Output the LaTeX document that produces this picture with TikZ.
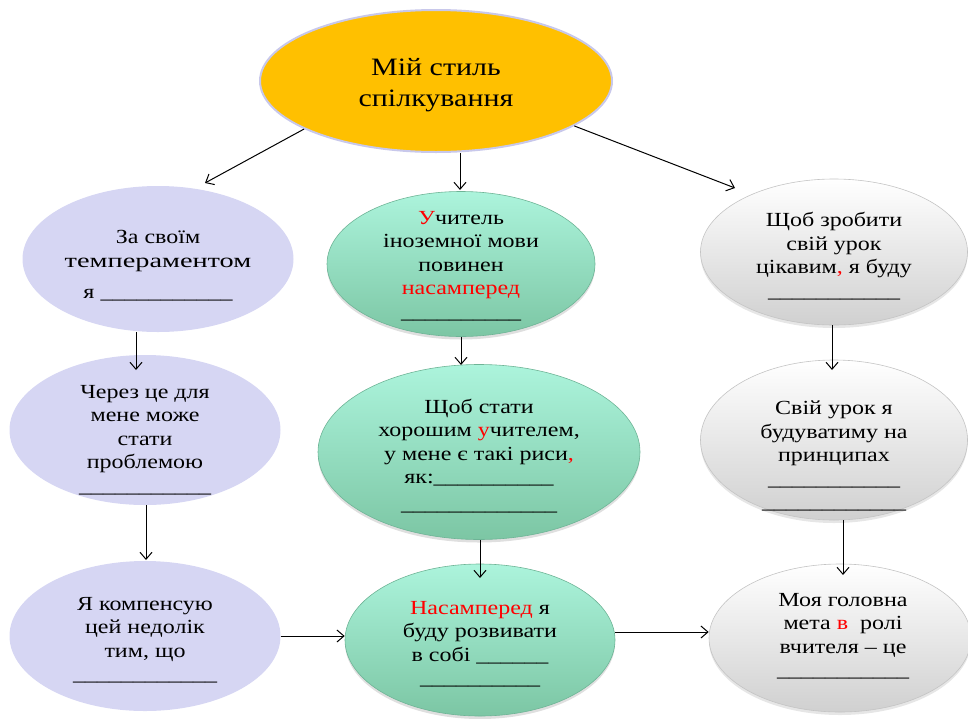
\documentclass[tikz,border=0pt]{standalone}
\usepackage{fontspec}
\usepackage{graphicx}
\setmainfont{Liberation Serif}[FakeStretch=1.2]
\usetikzlibrary{shapes.geometric,arrows.meta,shadows}
\definecolor{gold}{RGB}{255,192,0}
\definecolor{lavb}{RGB}{200,200,235}
\definecolor{lav}{RGB}{214,214,243}
\definecolor{mintT}{RGB}{172,244,220}
\definecolor{mintB}{RGB}{124,198,164}
\definecolor{mintD}{RGB}{110,180,150}
\definecolor{greyB}{RGB}{208,208,208}
\definecolor{greyD}{RGB}{196,196,196}
\definecolor{rd}{RGB}{255,0,0}
\begin{document}
\begin{tikzpicture}[x=1pt,y=-1pt,
  base/.style={ellipse,inner sep=0pt},
  topst/.style={base,fill=gold,draw=lavb,line width=2pt},
  lavst/.style={base,fill=lav},
  mintst/.style={base,top color=mintT,bottom color=mintB,draw=mintD,line width=0.6pt,
     drop shadow={opacity=0.25,shadow xshift=0pt,shadow yshift=-3pt}},
  greyst/.style={base,top color=white,bottom color=greyB,draw=greyD,line width=0.6pt,
     drop shadow={opacity=0.2,shadow xshift=0pt,shadow yshift=-3pt}},
  txt/.style={align=center,font=\fontsize{20}{23.5}\selectfont,inner sep=0pt},
  ttl/.style={align=center,font=\fontsize{25}{31}\selectfont,inner sep=0pt},
  arr/.style={-{Straight Barb[length=7pt,width=12pt]},line width=1pt}
]
\useasboundingbox (0,0) rectangle (968,718);
% ellipses
\node[topst,minimum width=352pt,minimum height=142pt] (T) at (436,81) {};
\node[ttl] (Tt) at (436,85) {Мій стиль\\спілкування};

\node[lavst,minimum width=271pt,minimum height=146pt] (E1) at (158,259) {};
\node[txt] (E1t) at (158,266) {За своїм\\\scalebox{1.18}[1]{темпераментом}\\[8pt]я \_\_\_\_\_\_\_\_\_\_\_};
\node[lavst,minimum width=271pt,minimum height=150pt] (E2) at (145,430) {};
\node[txt] (E2t) at (145,440) {Через це для\\мене може\\стати\\проблемою\\\_\_\_\_\_\_\_\_\_\_\_};
\node[lavst,minimum width=271pt,minimum height=150pt] (E3) at (145,636) {};
\node[txt] (E3t) at (145,640) {Я компенсую\\цей недолік\\тим, що\\\_\_\_\_\_\_\_\_\_\_\_\_};

\node[mintst,minimum width=268pt,minimum height=145pt] (M1) at (461,264) {};
\node[txt] (M1t) at (461,266) {{\color{rd}У}читель\\іноземної мови\\повинен\\{\color{rd}насамперед}\\\_\_\_\_\_\_\_\_\_\_};
\node[mintst,minimum width=322pt,minimum height=175pt] (M2) at (479,452) {};
\node[txt] (M2t) at (479,456) {Щоб стати\\хорошим {\color{rd}у}чителем,\\у мене є такі риси{\color{rd},}\\як:\_\_\_\_\_\_\_\_\_\_\\[3pt]\_\_\_\_\_\_\_\_\_\_\_\_\_};
\node[mintst,minimum width=270pt,minimum height=152pt] (M3) at (480,640) {};
\node[txt] (M3t) at (480,644) {{\color{rd}Насамперед} я\\буду розвивати\\в собі \_\_\_\_\_\_\\\_\_\_\_\_\_\_\_\_\_};

\node[greyst,minimum width=267pt,minimum height=146pt] (R1) at (834,252) {};
\node[txt] (R1t) at (834,256) {Щоб зробити\\свій урок\\цікавим{\color{rd},} я буду\\\_\_\_\_\_\_\_\_\_\_\_};
\node[greyst,minimum width=267pt,minimum height=160pt] (R2) at (834,440) {};
\node[txt] (R2t) at (834,456) {Свій урок я\\будуватиму на\\принципах\\\_\_\_\_\_\_\_\_\_\_\_\\\_\_\_\_\_\_\_\_\_\_\_\_};
\node[greyst,minimum width=262pt,minimum height=148pt] (R3) at (840,638) {};
\node[txt] (R3t) at (843,636) {Моя головна\\мета {\color{rd}в}\ \ ролі\\вчителя – це\\\_\_\_\_\_\_\_\_\_\_\_};

% free ends
\coordinate (aL) at (205,183);
\coordinate (aR) at (735,188);
% connectors
\draw[arr] (T.200) -- (aL);
\draw[arr] (T.-18) -- (aR);
\draw[arr] ([xshift=24pt]T.south) -- ([xshift=24pt]T.south |- 0,190);
\draw[arr] ([xshift=-22pt]E1.south) -- ([xshift=-22pt]E1.south |- 0,370);
\draw[arr] ([xshift=1pt]E2.south) -- ([xshift=1pt]E2.south |- 0,560);
\draw[arr] (M1.south) -- (M1.south |- 0,365);
\draw[arr] ([xshift=1pt]M2.south) -- ([xshift=1pt]M2.south |- 0,578);
\draw[arr] (E3.east) -- (E3.east -| M3.west);
\draw[arr] ([yshift=8pt]M3.east) -- ([yshift=8pt]M3.east -| R3.west);
\draw[arr] ([xshift=-2pt]R1.south) -- ([xshift=-2pt]R1.south |- 0,370);
\draw[arr] ([xshift=9pt]R2.south) -- ([xshift=9pt]R2.south |- 0,575);
\end{tikzpicture}
\end{document}
